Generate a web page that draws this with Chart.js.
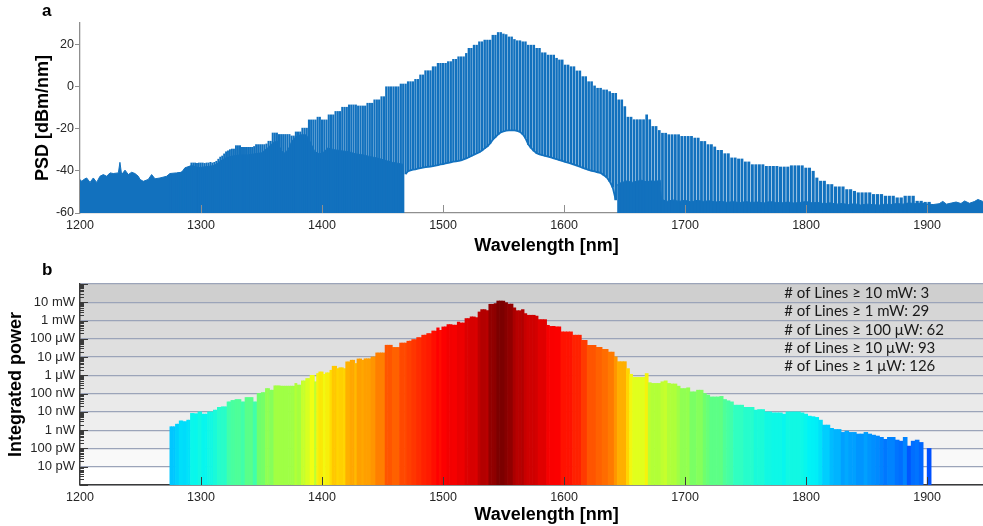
<!DOCTYPE html>
<html><head><meta charset="utf-8">
<script src="https://cdn.jsdelivr.net/npm/chart.js@4.4.1/dist/chart.umd.min.js"></script>
<style>
html,body{margin:0;padding:0;background:#fff;overflow:hidden;width:983px;height:526px;}
#wrap{position:relative;width:983px;height:526px;overflow:hidden;}
canvas{position:absolute;left:0;}
#cTop{top:0}
#cBot{top:262px}
.lbl{position:absolute;font:bold 17px "Liberation Sans",Arial,sans-serif;color:#000;line-height:19px;}
</style></head><body>
<div id="wrap">
<canvas id="cTop" width="1013" height="262"></canvas>
<canvas id="cBot" width="1013" height="264"></canvas>
<div class="lbl" style="left:42px;top:1px">a</div>
<div class="lbl" style="left:42px;top:260px">b</div>
</div>
<script>
// ---------------- DATA ----------------
// comb line wavelengths [nm]
const combWavelengths = [
1275.0,1276.5,1278.1,1279.6,1281.2,1282.7,1284.3,1285.8,1287.4,1288.9,1290.5,1292.0,1293.6,1295.1,1296.7,1298.2,1299.8,
1301.4,1303.0,1304.6,1306.2,1307.8,1309.4,1311.0,1312.7,1314.3,1315.9,1317.5,1319.1,1320.7,1322.3,1323.9,
1325.5,1327.2,1328.9,1330.5,1332.2,1333.9,1335.5,1337.2,1338.9,1340.5,1342.2,1343.9,1345.5,1347.2,1348.9,
1350.6,1352.3,1354.1,1355.8,1357.5,1359.3,1361.0,1362.7,1364.5,1366.2,1367.9,1369.6,1371.4,1373.1,1374.8,
1376.6,1378.4,1380.2,1382.0,1383.8,1385.6,1387.4,1389.2,1391.0,1392.8,1394.6,1396.4,1398.2,
1400.0,1401.9,1403.7,1405.6,1407.4,1409.3,1411.2,1413.0,1414.9,1416.7,1418.6,1420.5,1422.3,1424.2,
1426.0,1427.9,1429.9,1431.8,1433.7,1435.7,1437.6,1439.5,1441.4,1443.4,1445.3,1447.2,1449.2,
1451.1,1453.1,1455.1,1457.1,1459.1,1461.1,1463.1,1465.1,1467.1,1469.1,1471.1,1473.1,
1475.1,1477.2,1479.2,1481.3,1483.4,1485.5,1487.5,1489.6,1491.7,1493.7,1495.8,1497.9,
1500.0,1502.1,1504.3,1506.4,1508.5,1510.7,1512.8,1514.9,1517.0,1519.2,1521.3,1523.4,
1525.6,1527.8,1530.0,1532.2,1534.4,1536.7,1538.9,1541.1,1543.3,1545.5,1547.7,
1549.9,1552.2,1554.5,1556.7,1559.0,1561.3,1563.6,1565.9,1568.1,1570.4,1572.7,
1575.0,1577.4,1579.7,1582.1,1584.4,1586.8,1589.1,1591.5,1593.8,1596.2,1598.5,
1600.9,1603.3,1605.8,1608.2,1610.6,1613.1,1615.5,1617.9,1620.3,1622.8,
1625.2,1627.7,1630.2,1632.7,1635.2,1637.7,1640.2,1642.7,1645.2,1647.7,
1650.2,1652.8,1655.4,1657.9,1660.5,1663.1,1665.7,1668.3,1670.8,1673.4,
1676.0,1678.7,1681.3,1684.0,1686.6,1689.3,1692.0,1694.6,1697.3,1699.9,
1702.6,1705.3,1708.1,1710.8,1713.6,1716.3,1719.0,1721.8,1724.5,
1727.3,1730.1,1732.9,1735.7,1738.6,1741.4,1744.2,1747.0,1749.8,
1752.7,1755.6,1758.5,1761.4,1764.3,1767.2,1770.1,1773.0,
1775.9,1778.9,1781.9,1784.9,1787.9,1790.8,1793.8,1796.8,1799.8,
1802.8,1805.9,1808.9,1812.0,1815.1,1818.2,1821.2,1824.3,
1827.4,1830.5,1833.7,1836.8,1840.0,1843.1,1846.3,1849.4,
1852.6,1855.8,1859.1,1862.3,1865.6,1868.8,1872.0,
1875.3,1878.6,1881.9,1885.2,1888.5,1891.8,1895.1,1898.4,1901.7];

// panel a: comb line peak PSD [dBm/nm]
const linePeakPSD = [
-42,-42,-41.5,-41.5,-41,-41,-40.5,-40.5,-40,-39,-38,-36.3,-36.3,-36.3,-36.5,-36.3,-36.3,
-36.3,-36.5,-36.3,-36.3,-36,-36.3,-36,-35.5,-34.5,-33.5,-33,-32,-31,-30.5,-30,
-29.7,-29.7,-28.1,-28.1,-28.1,-28.9,-28.9,-28.9,-28.9,-28.9,-28.9,-28.5,-27.6,-27.6,-27.6,
-27.6,-27.6,-27.3,-26,-26,-22.1,-22.1,-22.1,-22.8,-22.8,-22.8,-22.8,-22.8,-22.8,-23.5,
-23.5,-21.6,-21.6,-21.6,-19.8,-19.8,-19.8,-15.9,-15.9,-15.9,-15.9,-14.6,-14.6,
-15.9,-15.9,-15.9,-13.5,-13.5,-13.5,-11.9,-11.9,-11.9,-9.9,-9.9,-9.9,-8.8,-8.8,
-8.8,-8.8,-9.3,-9.3,-9.3,-9.3,-8,-8,-8,-6.4,-6.4,-6.4,-4.9,
-4.9,-0.2,-0.2,-0.2,-0.2,-0.2,-0.2,1.1,1.1,1.1,2.2,2.2,
2.2,3.3,3.3,5.4,5.4,7.4,7.4,7.4,9.3,9.3,10.9,10.9,
10.9,10.9,11.7,11.7,12.8,12.8,14,14,14,15.6,18,18,
19.5,19.5,21.1,21.1,21.9,21.9,21.9,24.2,24.2,25.5,25.5,
24.8,24.5,23.4,23.4,22.2,21.6,21.6,21.1,21.1,19.5,19.5,
19.5,18,18,15.9,15.9,14.8,14.8,14.8,13.3,12.5,12.5,
10.1,10.1,9.3,9.3,7.3,7.3,4.6,4.6,2.2,2.2,
0.2,-0.9,-0.9,-1.7,-1.7,-2.5,-3.3,-3.3,-6.4,-6.4,
-9.6,-14.6,-14.6,-15.8,-15.8,-15.8,-15.8,-13.5,-15.8,-19,
-19,-20.9,-22.2,-22.2,-22.9,-22.9,-22.9,-22.9,-23.7,-23.7,
-23.7,-23.7,-24.5,-24.5,-26.1,-26.1,-27.6,-27.6,-28.7,
-30.3,-30.3,-31.9,-31.9,-33.9,-33.9,-34.4,-34.4,-35.8,
-35.8,-37.1,-37.1,-37.1,-37.1,-37.9,-37.9,-37.9,
-37.9,-38.2,-38.2,-38.2,-37.6,-37.6,-37.6,-37.6,-38.7,
-38.7,-40.2,-43.4,-44.9,-44.9,-46.5,-46.5,-47.6,
-47.6,-47.6,-48.9,-48.9,-49.7,-50.4,-50.4,-50.4,
-50.4,-51.2,-51.2,-51.2,-52,-52,-52,
-52.8,-52.8,-52,-52,-52,-54.4,-54.4,-54.9,-54.9];

// panel a: level between comb lines at each line (pedestal; -60 = buried in noise floor)
const lineFloorPSD = [
-60,-60,-60,-60,-60,-60,-60,-60,-60,-60,-60,-60,-60,-60,-60,-60,-60,
-60,-60,-60,-60,-60,-60,-60,-60,-60,-60,-60,-60,-60,-60,-60,
-60,-60,-60,-60,-60,-60,-60,-60,-60,-60,-60,-60,-60,-60,-60,
-60,-60,-60,-60,-60,-60,-60,-60,-60,-60,-60,-60,-60,-60,-60,
-60,-60,-60,-60,-60,-60,-60,-60,-60,-60,-60,-60,-60,
-60,-60,-60,-60,-60,-60,-60,-60,-60,-60,-60,-60,-60,-60,
-60,-60,-60,-60,-60,-60,-60,-60,-60,-60,-60,-60,-60,
-60,-60,-60,-60,-60,-60,-60,-60,-60,-41.5,-40.2,-39.8,
-39.5,-39.3,-39,-38.7,-38.5,-38.3,-38.1,-38,-37.8,-37.6,-37.3,-37,
-36.8,-36.5,-36.2,-36,-35.7,-35.5,-35.3,-35.1,-34.6,-34.1,-33.6,-33,
-32.4,-31.8,-31.2,-30.4,-29.4,-28.4,-27,-25.3,-24,-22.8,-21.8,
-21.4,-21,-20.9,-20.9,-20.9,-21.1,-21.6,-22.7,-24.5,-27.5,-29.2,
-30.6,-31.7,-32.2,-32.6,-33,-33.3,-33.7,-34.1,-34.5,-34.9,-35.3,
-35.8,-36.2,-36.6,-37.1,-37.6,-38.1,-38.6,-39.1,-39.6,-40,
-40.3,-40.7,-41,-42,-43.1,-45,-47.8,-53.8,-60,-60,
-60,-60,-60,-60,-60,-60,-60,-60,-60,-60,
-60,-60,-60,-60,-60,-60,-60,-60,-60,-60,
-60,-60,-60,-60,-60,-60,-60,-60,-60,
-60,-60,-60,-60,-60,-60,-60,-60,-60,
-60,-60,-60,-60,-60,-60,-60,-60,
-60,-60,-60,-60,-60,-60,-60,-60,-60,
-60,-60,-60,-60,-60,-60,-60,-60,
-60,-60,-60,-60,-60,-60,-60,-60,
-60,-60,-60,-60,-60,-60,-60,
-60,-60,-60,-60,-60,-60,-60,-60,-60];

// panel a: noise-floor envelope (filled)
const floorLeftWl = [1200,1201.4,1203.5,1205.5,1208.3,1211,1213.8,1216.5,1219.3,1222,1224.8,1227.5,1231.7,1233,1234.4,1237.2,1239.9,1242.7,1245.4,1248.2,1249.6,1252.3,1256.4,1259.2,1262,1266.1,1271.6,1274.3,1279.8,1284,1286.7,1292.2,1298,1305,1311,1316,1320,1326,1332,1338,1344,1350,1355,1360,1363,1366,1368.5,1372,1375,1379,1383,1387,1390,1394,1398,1402,1404.5,1410,1416,1422,1428,1434,1440,1446,1452,1458,1463,1467.5];
const floorLeftPSD = [-44.1,-45,-44,-43.4,-45.5,-43.4,-45.5,-42.6,-41.8,-42.6,-41,-41.3,-41,-36,-41.8,-39.7,-41.8,-40.7,-41.3,-42.6,-44.1,-45,-44.1,-41.8,-43.8,-43.4,-42.6,-41.3,-41,-40.7,-38.6,-37.5,-38.5,-38,-37.5,-35.5,-34,-33,-32.5,-32.5,-32,-31.5,-29.2,-26.5,-26,-30,-31.8,-30,-26,-23.5,-22.9,-23,-26,-30.9,-32,-31,-29.2,-30,-30.5,-31,-32,-32.5,-33.3,-34,-35,-36,-36.5,-37];
const floorRightWl = [1644,1645,1648,1652,1656,1660,1664,1668,1672,1676,1679.5,1680.5,1685,1690,1695,1700,1705,1710,1715,1720,1725,1730,1735,1740,1745,1750,1755,1760,1765,1770,1775,1780,1785,1790,1795,1800,1805,1810,1815,1820,1825,1830,1835,1840,1845,1850,1855,1860,1865,1870,1875,1880,1885,1890,1895,1900,1905,1910,1913,1916,1920,1924,1928,1931,1935,1939,1942,1946,1950,1955,1960,1965,1971];
const floorRightPSD = [-47,-46,-45.5,-44.8,-45.5,-45,-44.5,-45.2,-44.8,-45,-44.5,-53.5,-54.5,-53.8,-54.5,-54,-54.8,-54,-54.5,-54.2,-54.8,-54.5,-55,-54.5,-55.2,-54.6,-55,-54.8,-55.3,-54.6,-55,-55.2,-54.8,-55.3,-55,-54.6,-55.2,-55,-55.6,-55.2,-55.8,-55.5,-56,-55.6,-56.2,-55.8,-56,-56.3,-55.8,-56,-55.5,-55.8,-55.2,-55.6,-55.3,-55.8,-56,-55.6,-54.5,-55.8,-55.3,-54.8,-55.5,-54.3,-55.4,-54.6,-53.6,-54.5,-55,-54.6,-55,-54.8,-55];

// panel b: integrated power per line [dBm]
const linePowerDBm = [
-58.1,-58.1,-58.1,-56.7,-56.7,-54.9,-54.9,-55.3,-55.3,-54.5,-54.5,-50.8,-50.8,-51.0,-51.0,-50.0,-50.0,
-51.2,-51.2,-51.2,-50.0,-50.0,-50.0,-49.0,-49.0,-47.5,-47.5,-47.2,-47.2,-47.2,-44.5,-44.5,
-43.7,-43.7,-43.2,-43.2,-43.2,-44.5,-44.5,-42.1,-42.1,-42.1,-42.1,-44.5,-44.5,-39.9,-39.9,
-39.4,-39.4,-37.2,-37.2,-38.1,-38.1,-35.7,-35.7,-35.7,-35.9,-35.9,-35.9,-35.9,-35.9,-35.9,
-35.9,-34.4,-35.3,-35.3,-33.0,-33.0,-31.7,-31.7,-30.0,-30.0,-33.5,-29.0,-28.1,
-28.1,-29.4,-28.6,-28.6,-27.2,-25.0,-25.0,-26.3,-25.8,-25.8,-26.3,-22.6,-22.6,-21.7,
-21.7,-23.5,-21.0,-21.0,-21.7,-20.9,-20.9,-20.9,-19.9,-19.9,-17.7,-17.7,-17.7,
-17.7,-13.5,-13.5,-13.5,-14.7,-14.7,-14.7,-12.3,-12.3,-12.3,-11.3,-11.3,
-10.4,-10.4,-9.3,-9.3,-8.0,-8.0,-7.1,-7.1,-5.7,-5.7,-4.0,-5.3,
-3.5,-3.5,-2.2,-2.2,-2.5,-2.5,-0.8,-1.3,-1.3,1.1,1.1,2.0,
2.0,1.6,4.7,6.0,6.0,5.4,8.9,8.9,9.3,10.7,10.7,
10.7,9.8,9.0,9.0,6.9,5.4,5.4,6.0,3.8,2.9,2.9,
2.9,2.4,0.5,0.5,0.5,-2.6,-3.2,-3.2,-3.5,-3.5,-6.2,
-6.2,-6.2,-6.2,-8.0,-8.0,-8.0,-10.8,-10.8,-13.5,-13.5,
-13.5,-14.7,-14.7,-15.8,-15.8,-17.2,-17.2,-19.9,-22.5,-22.5,
-22.5,-26.3,-29.4,-31.1,-31.1,-31.1,-31.1,-29.0,-34.0,-34.4,
-34.4,-34.4,-33.5,-33.0,-34.4,-34.7,-34.7,-35.9,-37.2,-37.2,
-36.8,-39.0,-39.0,-38.1,-38.1,-39.9,-40.8,-41.8,-41.8,
-41.8,-41.5,-43.2,-43.9,-44.5,-46.3,-46.3,-46.3,-47.5,
-47.5,-47.5,-49.0,-48.7,-48.7,-50.0,-50.0,-50.5,
-50.5,-50.5,-51.2,-50.0,-50.0,-50.0,-50.0,-50.5,-51.2,
-52.3,-52.6,-53.0,-54.5,-57.2,-57.2,-59.0,-59.6,
-59.6,-61.2,-60.5,-61.2,-61.2,-62.1,-62.1,-61.2,
-62.1,-62.7,-63.2,-63.9,-65.0,-63.9,-63.9,
-65.4,-66.0,-63.9,-68.7,-66.0,-65.4,-66.7,null,-70.0];

// axis ticks and labels
const wavelengthTicks = [1200,1300,1400,1500,1600,1700,1800,1900];
const psdTicks = [-60,-40,-20,0,20];
const powerTickValues = [1e-11,1e-10,1e-9,1e-8,1e-7,1e-6,1e-5,1e-4,1e-3,1e-2];
const powerTickLabels = ['10 pW','100 pW','1 nW','10 nW','100 nW','1 μW','10 μW','100 μW','1 mW','10 mW'];

// annotation: number of lines above thresholds
const thresholdLabels = ['10 mW','1 mW','100 μW','10 μW','1 μW'];
const thresholdValuesW = [1e-2,1e-3,1e-4,1e-5,1e-6];
const thresholdCounts = [3,29,62,93,126];

// ---------------- STYLE ----------------
const BLUE = '#1271be';
const AXIS_GRAY = '#8f8f8f';
const FONT = '"Liberation Sans", Arial, Helvetica, sans-serif';
const bandColors = ['#ffffff','#f9f9f9','#f2f2f2','#eeeeee','#eaeaea','#e6e6e6','#e3e3e3','#dfdfdf','#dadada','#d6d6d6','#cfcfcf'];
const cmapStops = [
 [-75,0,60,255],[-68,0,90,255],[-62,0,150,255],[-58,0,200,255],[-52,0,245,245],
 [-46,50,255,190],[-40,110,255,110],[-35,170,255,60],[-30,240,255,20],[-27,255,220,0],
 [-22,255,170,0],[-16,255,110,0],[-10,255,50,0],[-4,255,0,0],[2,215,0,0],[7,170,0,0],[11,120,0,0]];
function powerColor(d) {
  if (d === null) return 'rgba(0,0,0,0)';
  if (d <= cmapStops[0][0]) return `rgb(${cmapStops[0][1]},${cmapStops[0][2]},${cmapStops[0][3]})`;
  for (let i = 1; i < cmapStops.length; i++) {
    const a = cmapStops[i-1], b = cmapStops[i];
    if (d <= b[0]) {
      const t = (d - a[0]) / (b[0] - a[0]);
      const c = [1,2,3].map(k => Math.round(a[k] + (b[k]-a[k])*t));
      return `rgb(${c[0]},${c[1]},${c[2]})`;
    }
  }
  const l = cmapStops[cmapStops.length-1];
  return `rgb(${l[1]},${l[2]},${l[3]})`;
}
const isDecade = v => Math.abs(Math.log10(v) - Math.round(Math.log10(v))) < 1e-6;
const plainNum = v => String(v);

Chart.defaults.font.family = FONT;
Chart.defaults.color = '#262626';

// ---------------- PLUGINS ----------------
const bandPlugin = {
  id: 'bands',
  beforeDraw(chart, args, o) {
    if (!o || !o.colors) return;
    const {ctx, chartArea: a} = chart; const y = chart.scales.y;
    ctx.save();
    o.colors.forEach((c, i) => {
      const y1 = y.getPixelForValue(Math.pow(10, o.startExp + i + 1));
      const y2 = y.getPixelForValue(Math.pow(10, o.startExp + i));
      ctx.fillStyle = c;
      ctx.fillRect(a.left, y1, a.right - a.left, y2 - y1);
    });
    ctx.restore();
  }
};
const innerTicks = {
  id: 'innerTicks',
  afterDatasetsDraw(chart, args, o) {
    const {ctx, chartArea: a} = chart; const x = chart.scales.x, y = chart.scales.y;
    ctx.save();
    ctx.strokeStyle = o.color; ctx.lineWidth = o.width || 1;
    ctx.beginPath();
    if (o.xLen) x.ticks.forEach(t => {
      const px = Math.round(x.getPixelForValue(t.value)) + 0.5;
      if (px <= a.left + 1) return;
      ctx.moveTo(px, a.bottom); ctx.lineTo(px, a.bottom - o.xLen);
    });
    if (o.yMajor) y.ticks.forEach(t => {
      const py = Math.round(y.getPixelForValue(t.value)) + 0.5;
      const len = isDecade(t.value) ? o.yMajor : o.yMinor;
      ctx.moveTo(a.left, py); ctx.lineTo(a.left + len, py);
    });
    ctx.stroke();
    ctx.restore();
  }
};
const notesPlugin = {
  id: 'lineNotes',
  afterDatasetsDraw(chart, args, o) {
    if (!o || !o.texts) return;
    const {ctx} = chart; const x = chart.scales.x, y = chart.scales.y;
    ctx.save();
    ctx.font = o.font; ctx.fillStyle = o.color; ctx.textBaseline = 'middle'; ctx.textAlign = 'left';
    const px = x.getPixelForValue(o.anchorX);
    o.texts.forEach((t, i) => ctx.fillText(t, px, y.getPixelForValue(o.anchorY[i])));
    ctx.restore();
  }
};

// ---------------- PANEL A ----------------
new Chart(document.getElementById('cTop'), {
  type: 'bar',
  plugins: [innerTicks],
  data: {
    datasets: [
      { type: 'line', order: 1,
        data: combWavelengths.map((w, i) => ({x: w, y: lineFloorPSD[i] > -60 ? lineFloorPSD[i] : null})),
        borderColor: BLUE, borderWidth: 1.8, pointRadius: 0, fill: false, spanGaps: false },
      { type: 'bar', order: 2,
        data: combWavelengths.map((w, i) => ({x: w, y: [lineFloorPSD[i], linePeakPSD[i]]})),
        backgroundColor: BLUE, borderWidth: 0, barThickness: 'flex', categoryPercentage: 1, barPercentage: 0.65 },
      { type: 'line', order: 3,
        data: floorLeftWl.map((w, i) => ({x: w, y: floorLeftPSD[i]})),
        borderColor: BLUE, backgroundColor: BLUE, borderWidth: 1, pointRadius: 0, fill: 'start', tension: 0 },
      { type: 'line', order: 3,
        data: floorRightWl.map((w, i) => ({x: w, y: floorRightPSD[i]})),
        borderColor: BLUE, backgroundColor: BLUE, borderWidth: 1, pointRadius: 0, fill: 'start', tension: 0 }
    ]
  },
  options: {
    responsive: false, animation: false, devicePixelRatio: 1,
    layout: {padding: {top: 23, left: 0, right: 0, bottom: 0}},
    plugins: {
      legend: {display: false}, tooltip: {enabled: false},
      innerTicks: {color: AXIS_GRAY, width: 1, xLen: 8}
    },
    scales: {
      x: {
        type: 'linear', min: 1200, max: 1971, offset: false,
        afterBuildTicks: s => { s.ticks = wavelengthTicks.map(v => ({value: v})); },
        afterFit: s => { s.height = 49; },
        grid: {display: false, drawTicks: false, offset: false},
        border: {display: true, color: AXIS_GRAY, width: 1.3},
        ticks: {padding: 5, font: {size: 12.5}, maxRotation: 0, autoSkip: false, color: '#262626', callback: plainNum},
        title: {display: true, text: 'Wavelength [nm]', color: '#000', font: {size: 18, weight: 'bold'}, padding: {top: 0, bottom: 5.5}}
      },
      y: {
        type: 'linear', min: -60, max: 30,
        afterBuildTicks: s => { s.ticks = psdTicks.map(v => ({value: v})); },
        afterFit: s => { s.width = 80; },
        grid: {drawOnChartArea: false, drawTicks: true, tickLength: 5, tickColor: AXIS_GRAY, tickWidth: 1},
        border: {display: true, color: AXIS_GRAY, width: 1.3},
        ticks: {padding: 1, font: {size: 12.5}, color: '#262626', callback: plainNum},
        title: {display: true, text: 'PSD [dBm/nm]', color: '#000', font: {size: 18, weight: 'bold'}, padding: {top: 32, bottom: 0}}
      }
    }
  }
});

// ---------------- PANEL B ----------------
const logTicks = [];
for (let e = -12; e <= -2; e++) for (let k = 1; k <= 9; k++) logTicks.push(k * Math.pow(10, e));
logTicks.push(0.1);

new Chart(document.getElementById('cBot'), {
  type: 'bar',
  plugins: [bandPlugin, innerTicks, notesPlugin],
  data: {
    datasets: [{
      data: combWavelengths.map((w, i) => ({x: w, y: linePowerDBm[i] === null ? null : Math.pow(10, (linePowerDBm[i] - 30) / 10)})),
      backgroundColor: linePowerDBm.map(powerColor),
      borderWidth: 0, barThickness: 'flex', categoryPercentage: 1, barPercentage: 1
    }]
  },
  options: {
    responsive: false, animation: false, devicePixelRatio: 1,
    layout: {padding: {top: 22, left: 0, right: 0, bottom: 0}},
    plugins: {
      legend: {display: false}, tooltip: {enabled: false},
      bands: {colors: bandColors, startExp: -12},
      innerTicks: {color: '#3a3a3a', width: 1, xLen: 8, yMajor: 8, yMinor: 4},
      lineNotes: {
        texts: thresholdLabels.map((t, i) => '# of Lines ≥ ' + t + ': ' + thresholdCounts[i]),
        anchorX: 1782, anchorY: thresholdValuesW.map(v => v * Math.sqrt(10)),
        font: '15px Lato, "Open Sans", sans-serif', color: '#1a1a1a'
      }
    },
    scales: {
      x: {
        type: 'linear', min: 1200, max: 1971, offset: false,
        afterBuildTicks: s => { s.ticks = wavelengthTicks.map(v => ({value: v})); },
        afterFit: s => { s.height = 41; },
        grid: {display: false, drawTicks: false, offset: false},
        border: {display: true, color: '#3a3a3a', width: 1.5},
        ticks: {padding: 5, font: {size: 12.5}, maxRotation: 0, autoSkip: false, color: '#262626', callback: plainNum},
        title: {display: true, text: 'Wavelength [nm]', color: '#000', font: {size: 18, weight: 'bold'}, padding: {top: 0, bottom: 0.2}}
      },
      y: {
        type: 'logarithmic', min: 1e-12, max: 0.1,
        afterBuildTicks: s => { s.ticks = logTicks.map(v => ({value: v})); },
        afterFit: s => { s.width = 80; },
        grid: {
          drawTicks: false, lineWidth: 1.2,
          color: c => (c.tick && isDecade(c.tick.value)) ? '#9ba4b9' : 'rgba(0,0,0,0)'
        },
        border: {display: true, color: '#3a3a3a', width: 1.5},
        ticks: {
          padding: 5, autoSkip: false, font: {size: 13}, color: '#262626',
          callback: v => {
            const i = powerTickValues.findIndex(t => Math.abs(v - t) / t < 1e-6);
            return i >= 0 ? powerTickLabels[i] : '';
          }
        },
        title: {display: true, text: 'Integrated power', color: '#000', font: {size: 18, weight: 'bold'}, padding: {top: 5, bottom: 0}}
      }
    }
  }
});
</script>
</body></html>
